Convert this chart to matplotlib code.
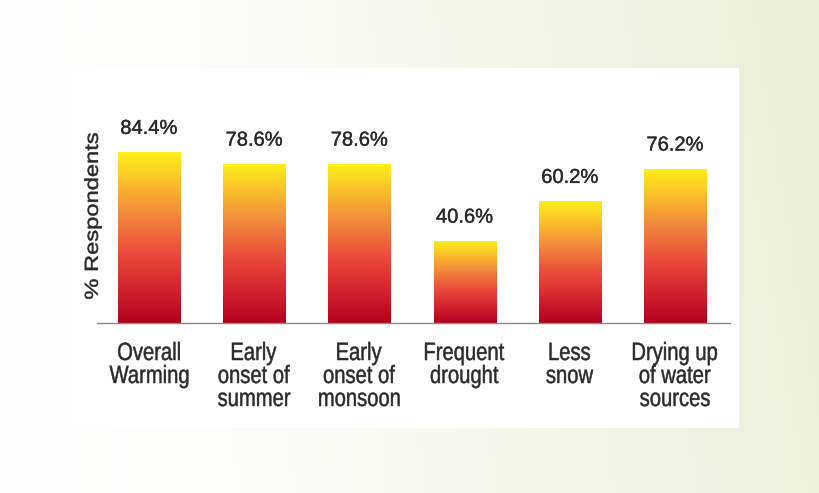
import numpy as np
import matplotlib
matplotlib.use("Agg")
import matplotlib.pyplot as plt
import matplotlib.patheffects as pe
from matplotlib.colors import LinearSegmentedColormap
from matplotlib.patches import Rectangle, PathPatch
from matplotlib.textpath import TextPath
from matplotlib.font_manager import FontProperties
from matplotlib.transforms import Affine2D

categories = [
    "Overall\nWarming",
    "Early\nonset of\nsummer",
    "Early\nonset of\nmonsoon",
    "Frequent\ndrought",
    "Less\nsnow",
    "Drying up\nof water\nsources",
]
values = [84.4, 78.6, 78.6, 40.6, 60.2, 76.2]
value_labels = ["84.4%", "78.6%", "78.6%", "40.6%", "60.2%", "76.2%"]

W, H = 819, 493
TEXT = "#2b2b2b"
FONT = FontProperties(family="Liberation Sans")

fig = plt.figure(figsize=(W / 100, H / 100), dpi=100)

# soft white-to-pale-green backdrop
bg = fig.add_axes([0, 0, 1, 1])
bg.set_axis_off()
gx = np.linspace(0, 1, 256)
gy = np.linspace(0, 1, 64)
X, Y = np.meshgrid(gx, gy)
t = np.clip(X ** 1.5 * 0.95 + (1 - Y) * 0.15 * X, 0, 1)
c0 = np.array([1.0, 1.0, 1.0])
c1 = np.array([0.922, 0.937, 0.855])
img = c0[None, None, :] * (1 - t[..., None]) + c1[None, None, :] * t[..., None]
bg.imshow(img, extent=[0, 1, 0, 1], aspect="auto", origin="upper")
bg.set_xlim(0, 1)
bg.set_ylim(0, 1)

# white panel behind the chart
bg.add_patch(Rectangle((66 / W, 1 - 428 / H), (739 - 66) / W, (428 - 68) / H,
                       facecolor="white", edgecolor="none", zorder=2))

ax = fig.add_axes([97 / W, (H - 323) / H, (730 - 97) / W, 202.6 / H])
ax.patch.set_alpha(0)
ax.set_ylim(0, 100)
ax.set_xlim(-0.494, 5.523)

grad = LinearSegmentedColormap.from_list(
    "heat",
    [(0.0, "#b3001e"), (0.18, "#d01f2c"), (0.42, "#ea4e3c"),
     (0.68, "#f5953a"), (0.88, "#fbcf25"), (1.0, "#fff01a")],
)

x = np.arange(len(values))
bars = ax.bar(x, values, width=0.59, color="none", edgecolor="none")
ramp = np.linspace(0, 1, 256).reshape(-1, 1)
for bar in bars:
    x0, y0 = bar.get_x(), bar.get_y()
    w, h = bar.get_width(), bar.get_height()
    im = ax.imshow(ramp, cmap=grad, origin="lower", aspect="auto",
                   extent=[x0, x0 + w, y0, y0 + h], zorder=2)
    im.set_clip_path(bar)

for xi, v, lab in zip(x, values, value_labels):
    ax.annotate(lab, (xi, v), xytext=(0, 17), textcoords="offset points",
                ha="center", va="center", fontsize=14.5, color=TEXT,
                family=["Liberation Sans", "DejaVu Sans"],
                path_effects=[pe.withStroke(linewidth=0.25, foreground=TEXT)])

ax.set_xticks(x)
ax.set_xticklabels([])
ax.tick_params(axis="x", length=0)
ax.set_yticks([])
for side in ["top", "right", "left"]:
    ax.spines[side].set_visible(False)
ax.spines["bottom"].set_color("#8a8a8a")
ax.spines["bottom"].set_linewidth(1.0)


def tall_text(s, cx, cy, sx, sy, rotate=0.0, baseline=False):
    """Draw s as a path scaled sx by sy pixels per em, centred at (cx, cy) px."""
    tp = TextPath((0, 0), s, size=100, prop=FONT)
    bb = tp.get_extents()
    dy = 0 if baseline else -(bb.y0 + bb.height / 2)
    tr = (Affine2D().translate(-(bb.x0 + bb.width / 2), dy)
          .scale(sx / 100, sy / 100).rotate_deg(rotate).translate(cx, cy))
    fig.add_artist(PathPatch(tp, transform=tr, facecolor=TEXT,
                             edgecolor=TEXT, lw=0.35))


# category labels, one line at a time under each bar
fig.canvas.draw()
first_baseline = 360
pitch = 23
for xi, cat in zip(x, categories):
    px = ax.transData.transform((xi, 0))[0]
    for k, line in enumerate(cat.split("\n")):
        tall_text(line, px, H - (first_baseline + k * pitch), 20.2, 25.0,
                  baseline=True)

tall_text("% Respondents", 93, H - 216, 23.7, 19.0, rotate=90)

fig.savefig("out.png", dpi=100)
